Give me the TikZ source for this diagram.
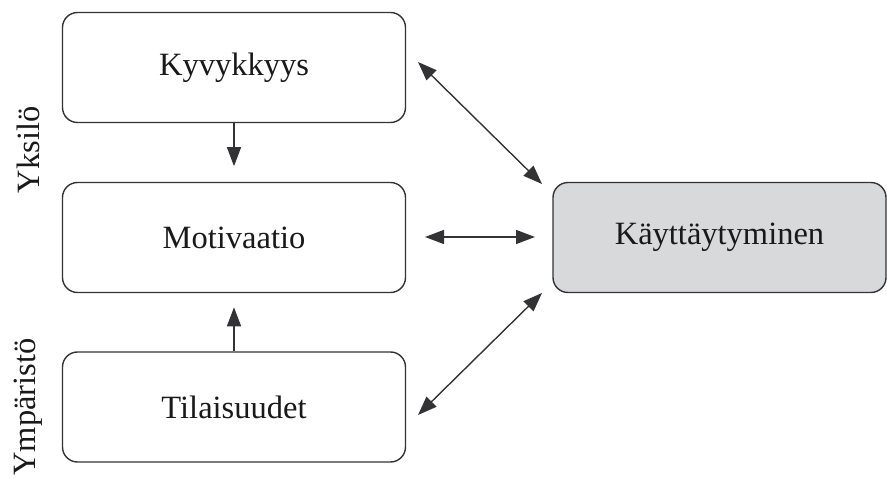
\documentclass[tikz,border=0pt]{standalone}
\usepackage{fontspec}
\setmainfont{Liberation Serif}
\usetikzlibrary{arrows.meta}
\definecolor{edge}{HTML}{333335}
\definecolor{boxgray}{HTML}{D8D9DB}
\tikzset{
  box/.style={draw=edge, line width=1.4pt, rounded corners=15pt, minimum width=343pt, minimum height=110pt, inner sep=0pt, font=\fontsize{32.5}{38}\selectfont, text=black!90},
  side/.style={rotate=90, font=\fontsize{32.5}{38}\selectfont, text=black!90, inner sep=0pt},
  conn/.style={draw=edge, line width=1.4pt, -{Triangle[length=19pt,width=14pt]}},
  biconn/.style={draw=edge, line width=1.4pt, {Triangle[length=19pt,width=14pt]}-{Triangle[length=19pt,width=14pt]}}
}
\begin{document}
\begin{tikzpicture}[x=1pt,y=-1pt]
\useasboundingbox (0,0) rectangle (887,478);
\node[box] (kyv) at (234,67.5) {Kyvykkyys};
\node[box] (mot) at (234,237.5) {Motivaatio};
\node[box] (til) at (234,407) {Tilaisuudet};
\node[box, fill=boxgray, minimum width=333pt] (kay) at (719.5,237.5) {Käyttäytyminen};
\node[side] (yks) at (28,150) {Yksilö};
\node[side] (ymp) at (28,407) {Ympäristö};
\coordinate (k1) at (418,62);
\coordinate (k2) at (542,184);
\coordinate (m1) at (425,237);
\coordinate (m2) at (535,237);
\coordinate (t1) at (418,415);
\coordinate (t2) at (542,293);
\draw[conn] (kyv.south) -- ([yshift=-43pt]kyv.south);
\draw[conn] (til.north) -- ([yshift=44pt]til.north);
\draw[biconn] (k1) -- (k2);
\draw[biconn] (m1) -- (m2);
\draw[biconn] (t1) -- (t2);
\end{tikzpicture}
\end{document}
